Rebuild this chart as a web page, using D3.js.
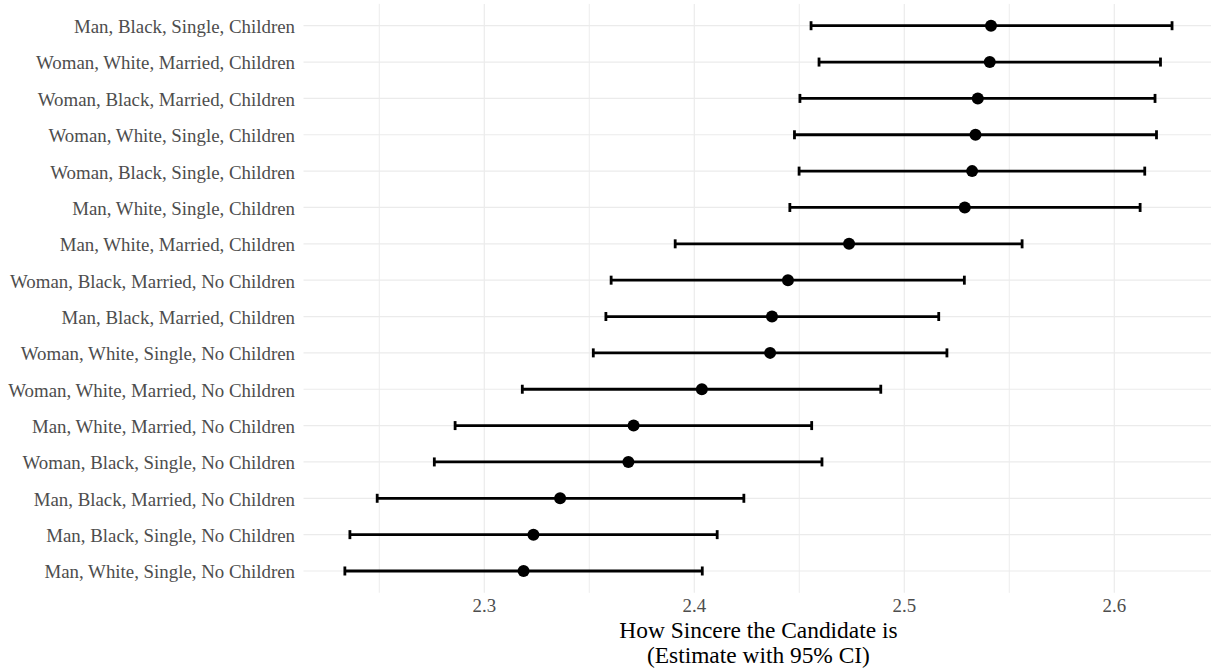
<!DOCTYPE html>
<html>
<head>
<meta charset="utf-8">
<script src="https://cdn.jsdelivr.net/npm/d3@7"></script>
<style>
  body { margin: 0; background: #fff; }
  svg { display: block; font-family: "Liberation Serif", "Times New Roman", serif; }
</style>
</head>
<body>
<svg id="chart" width="1211" height="670"></svg>
<script>
// categories, top to bottom
const groups = [
  "Man, Black, Single, Children",
  "Woman, White, Married, Children",
  "Woman, Black, Married, Children",
  "Woman, White, Single, Children",
  "Woman, Black, Single, Children",
  "Man, White, Single, Children",
  "Man, White, Married, Children",
  "Woman, Black, Married, No Children",
  "Man, Black, Married, Children",
  "Woman, White, Single, No Children",
  "Woman, White, Married, No Children",
  "Man, White, Married, No Children",
  "Woman, Black, Single, No Children",
  "Man, Black, Married, No Children",
  "Man, Black, Single, No Children",
  "Man, White, Single, No Children"
];
const estimate = [2.5413, 2.5407, 2.5350, 2.5339, 2.5323, 2.5288, 2.4737, 2.4446,
                  2.4370, 2.4361, 2.4036, 2.3711, 2.3686, 2.3361, 2.3234, 2.3187];
const lower = [2.4556, 2.4594, 2.4503, 2.4477, 2.4499, 2.4455, 2.3909, 2.3604,
               2.3579, 2.3519, 2.3181, 2.2861, 2.2762, 2.2490, 2.2360, 2.2336];
const upper = [2.6275, 2.6220, 2.6194, 2.6201, 2.6145, 2.6123, 2.5561, 2.5286,
               2.5164, 2.5203, 2.4888, 2.4559, 2.4608, 2.4236, 2.4109, 2.4038];
const majorTicks = [2.3, 2.4, 2.5, 2.6];
const minorTicks = [2.25, 2.35, 2.45, 2.55, 2.65];

const rows = groups.map((g, i) => ({ group: g, est: estimate[i], lo: lower[i], hi: upper[i] }));

// panel geometry
const panel = { left: 303.5, right: 1213.4, top: 3.9, bottom: 592.8 };

// x domain with ggplot-style 5% expansion
const xmin = d3.min(lower), xmax = d3.max(upper);
const pad = (xmax - xmin) * 0.05;
const x = d3.scaleLinear().domain([xmin - pad, xmax + pad]).range([panel.left, panel.right]);

const y = d3.scalePoint().domain(groups).range([panel.top, panel.bottom]).padding(0.6);

const svg = d3.select("#chart");

// pick a font size so a sample string comes out at the wanted width
function fitSize(sample, width) {
  const t = svg.append("text").style("font-size", "100px").text(sample);
  const len = t.node().getComputedTextLength();
  t.remove();
  return width / len * 100;
}
const labelSize = fitSize("Man, White, Single, No Children", 250.7);
const titleSize = fitSize("How Sincere the Candidate is", 278.4);

const grid = svg.append("g");

// minor vertical gridlines
grid.selectAll("line.minor")
  .data(minorTicks)
  .enter()
  .append("line")
  .attr("x1", d => x(d)).attr("x2", d => x(d))
  .attr("y1", panel.top).attr("y2", panel.bottom)
  .attr("stroke", "#ebebeb").attr("stroke-width", 0.9);

// major vertical gridlines
grid.selectAll("line.major")
  .data(majorTicks)
  .enter()
  .append("line")
  .attr("x1", d => x(d)).attr("x2", d => x(d))
  .attr("y1", panel.top).attr("y2", panel.bottom)
  .attr("stroke", "#ebebeb").attr("stroke-width", 1.2);

// horizontal gridlines
grid.selectAll("line.row")
  .data(groups)
  .enter()
  .append("line")
  .attr("x1", panel.left).attr("x2", panel.right)
  .attr("y1", d => y(d)).attr("y2", d => y(d))
  .attr("stroke", "#ebebeb").attr("stroke-width", 1.2);

// error bars
const bars = svg.append("g");
bars.selectAll("line.ci")
  .data(rows)
  .enter()
  .append("line")
  .attr("x1", d => x(d.lo)).attr("x2", d => x(d.hi))
  .attr("y1", d => y(d.group)).attr("y2", d => y(d.group))
  .attr("stroke", "#000").attr("stroke-width", 2.8);

["lo", "hi"].forEach(k => {
  bars.selectAll("line.cap-" + k)
    .data(rows)
    .enter()
    .append("line")
    .attr("x1", d => x(d[k])).attr("x2", d => x(d[k]))
    .attr("y1", d => y(d.group) - 4.5).attr("y2", d => y(d.group) + 4.5)
    .attr("stroke", "#000").attr("stroke-width", 2.8);
});

// point estimates
svg.append("g")
  .selectAll("circle")
  .data(rows)
  .enter()
  .append("circle")
  .attr("cx", d => x(d.est))
  .attr("cy", d => y(d.group))
  .attr("r", 6)
  .attr("fill", "#000");

// y axis labels
svg.append("g")
  .selectAll("text")
  .data(groups)
  .enter()
  .append("text")
  .attr("x", 295)
  .attr("y", d => y(d) + 7.4)
  .attr("text-anchor", "end")
  .attr("fill", "#4d4d4d")
  .style("font-size", labelSize + "px")
  .text(d => d);

// x axis tick labels
svg.append("g")
  .selectAll("text")
  .data(majorTicks)
  .enter()
  .append("text")
  .attr("x", d => x(d))
  .attr("y", 612)
  .attr("text-anchor", "middle")
  .attr("fill", "#4d4d4d")
  .style("font-size", labelSize + "px")
  .text(d => d3.format(".1f")(d));

// x axis title, two separate lines
const cx = (panel.left + panel.right) / 2;
svg.append("g")
  .selectAll("text")
  .data(["How Sincere the Candidate is", "(Estimate with 95% CI)"])
  .enter()
  .append("text")
  .attr("x", cx)
  .attr("y", (d, i) => i === 0 ? 637.5 : 663)
  .attr("text-anchor", "middle")
  .attr("fill", "#000")
  .style("font-size", titleSize + "px")
  .text(d => d);
</script>
</body>
</html>
